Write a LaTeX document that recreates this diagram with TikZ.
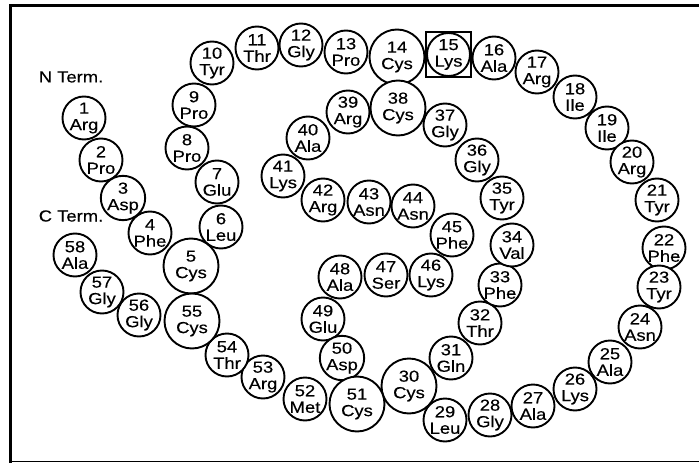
\documentclass[tikz,border=0pt]{standalone}
\usepackage{fontspec}
\setmainfont{Liberation Sans}
\newfontfamily\resfont[FakeStretch=1.15,FakeBold=0.3]{Liberation Sans}
\usetikzlibrary{fit}

\begin{document}
\begin{tikzpicture}[
    x=1pt, y=-1pt,
    res/.style={circle, draw, line width=1.9pt, fill=white, minimum size=43pt, inner sep=0pt, align=center, font=\resfont\fontsize{16}{16.5}\selectfont},
    cys/.style={res, minimum size=55pt},
    term/.style={font=\resfont\fontsize{16}{16.5}\selectfont}
]
\useasboundingbox (0,0) rectangle (699,463);

% Frame
\draw[line width=3pt] (10,463) -- (10,5) -- (699,5);
\draw[line width=1.5pt] (10,461.5) -- (699,461.5);

% Termini
\node[term] (nterm) at (71,77) {N Term.};
\node[term] (cterm) at (71,216) {C Term.};

% Residues 1-10
\node[res] (r1) at (84,118) {1\\Arg};
\node[res] (r2) at (101,160) {2\\Pro};
\node[res] (r3) at (123,198) {3\\Asp};
\node[res] (r4) at (150,233) {4\\Phe};
\node[cys] (r5) at (191,266) {5\\Cys};
\node[res] (r6) at (221,227) {6\\Leu};
\node[res] (r7) at (217,182) {7\\Glu};
\node[res] (r8) at (187,148) {8\\Pro};
\node[res] (r9) at (194,105) {9\\Pro};
\node[res] (r10) at (212,63) {10\\Tyr};

% Residues 11-20
\node[res] (r11) at (257,48) {11\\Thr};
\node[res] (r12) at (301,45) {12\\Gly};
\node[res] (r13) at (346,52) {13\\Pro};
\node[cys] (r14) at (397,57) {14\\Cys};
\node[res] (r15) at (448.5,54.5) {15\\Lys};
\node[res] (r16) at (494,58) {16\\Ala};
\node[res] (r17) at (537,72) {17\\Arg};
\node[res] (r18) at (575,97) {18\\Ile};
\node[res] (r19) at (607,128) {19\\Ile};
\node[res] (r20) at (632,162) {20\\Arg};

% Residues 21-30
\node[res] (r21) at (657,200) {21\\Tyr};
\node[res] (r22) at (664,248) {22\\Phe};
\node[res] (r23) at (659,287) {23\\Tyr};
\node[res] (r24) at (640,327) {24\\Asn};
\node[res] (r25) at (610,362) {25\\Ala};
\node[res] (r26) at (575,389) {26\\Lys};
\node[res] (r27) at (533,406) {27\\Ala};
\node[res] (r28) at (490,415) {28\\Gly};
\node[res] (r29) at (445,420) {29\\Leu};
\node[cys] (r30) at (409,386) {30\\Cys};

% Residues 31-40
\node[res] (r31) at (451,358) {31\\Gln};
\node[res] (r32) at (480,323) {32\\Thr};
\node[res] (r33) at (500,285) {33\\Phe};
\node[res] (r34) at (512,245) {34\\Val};
\node[res] (r35) at (502,198) {35\\Tyr};
\node[res] (r36) at (477,160) {36\\Gly};
\node[res] (r37) at (445,125) {37\\Gly};
\node[cys] (r38) at (398,108) {38\\Cys};
\node[res] (r39) at (348,112) {39\\Arg};
\node[res] (r40) at (308,138) {40\\Ala};

% Residues 41-50
\node[res] (r41) at (283,176) {41\\Lys};
\node[res] (r42) at (323,200) {42\\Arg};
\node[res] (r43) at (369,202) {43\\Asn};
\node[res] (r44) at (413,206) {44\\Asn};
\node[res] (r45) at (452,235) {45\\Phe};
\node[res] (r46) at (431,275) {46\\Lys};
\node[res] (r47) at (386,275) {47\\Ser};
\node[res] (r48) at (340,277) {48\\Ala};
\node[res] (r49) at (323,319) {49\\Glu};
\node[res] (r50) at (342,358) {50\\Asp};

% Residues 51-58
\node[cys] (r51) at (357,404) {51\\Cys};
\node[res] (r52) at (305,399) {52\\Met};
\node[res] (r53) at (263,377) {53\\Arg};
\node[res] (r54) at (227,355) {54\\Thr};
\node[cys] (r55) at (192,321) {55\\Cys};
\node[res] (r56) at (139,315) {56\\Gly};
\node[res] (r57) at (102,292) {57\\Gly};
\node[res] (r58) at (75,255) {58\\Ala};

% Box round Lys 15
\node[fit=(r15), draw, line width=1.5pt, inner sep=0pt] (lysbox) {};

\end{tikzpicture}
\end{document}
